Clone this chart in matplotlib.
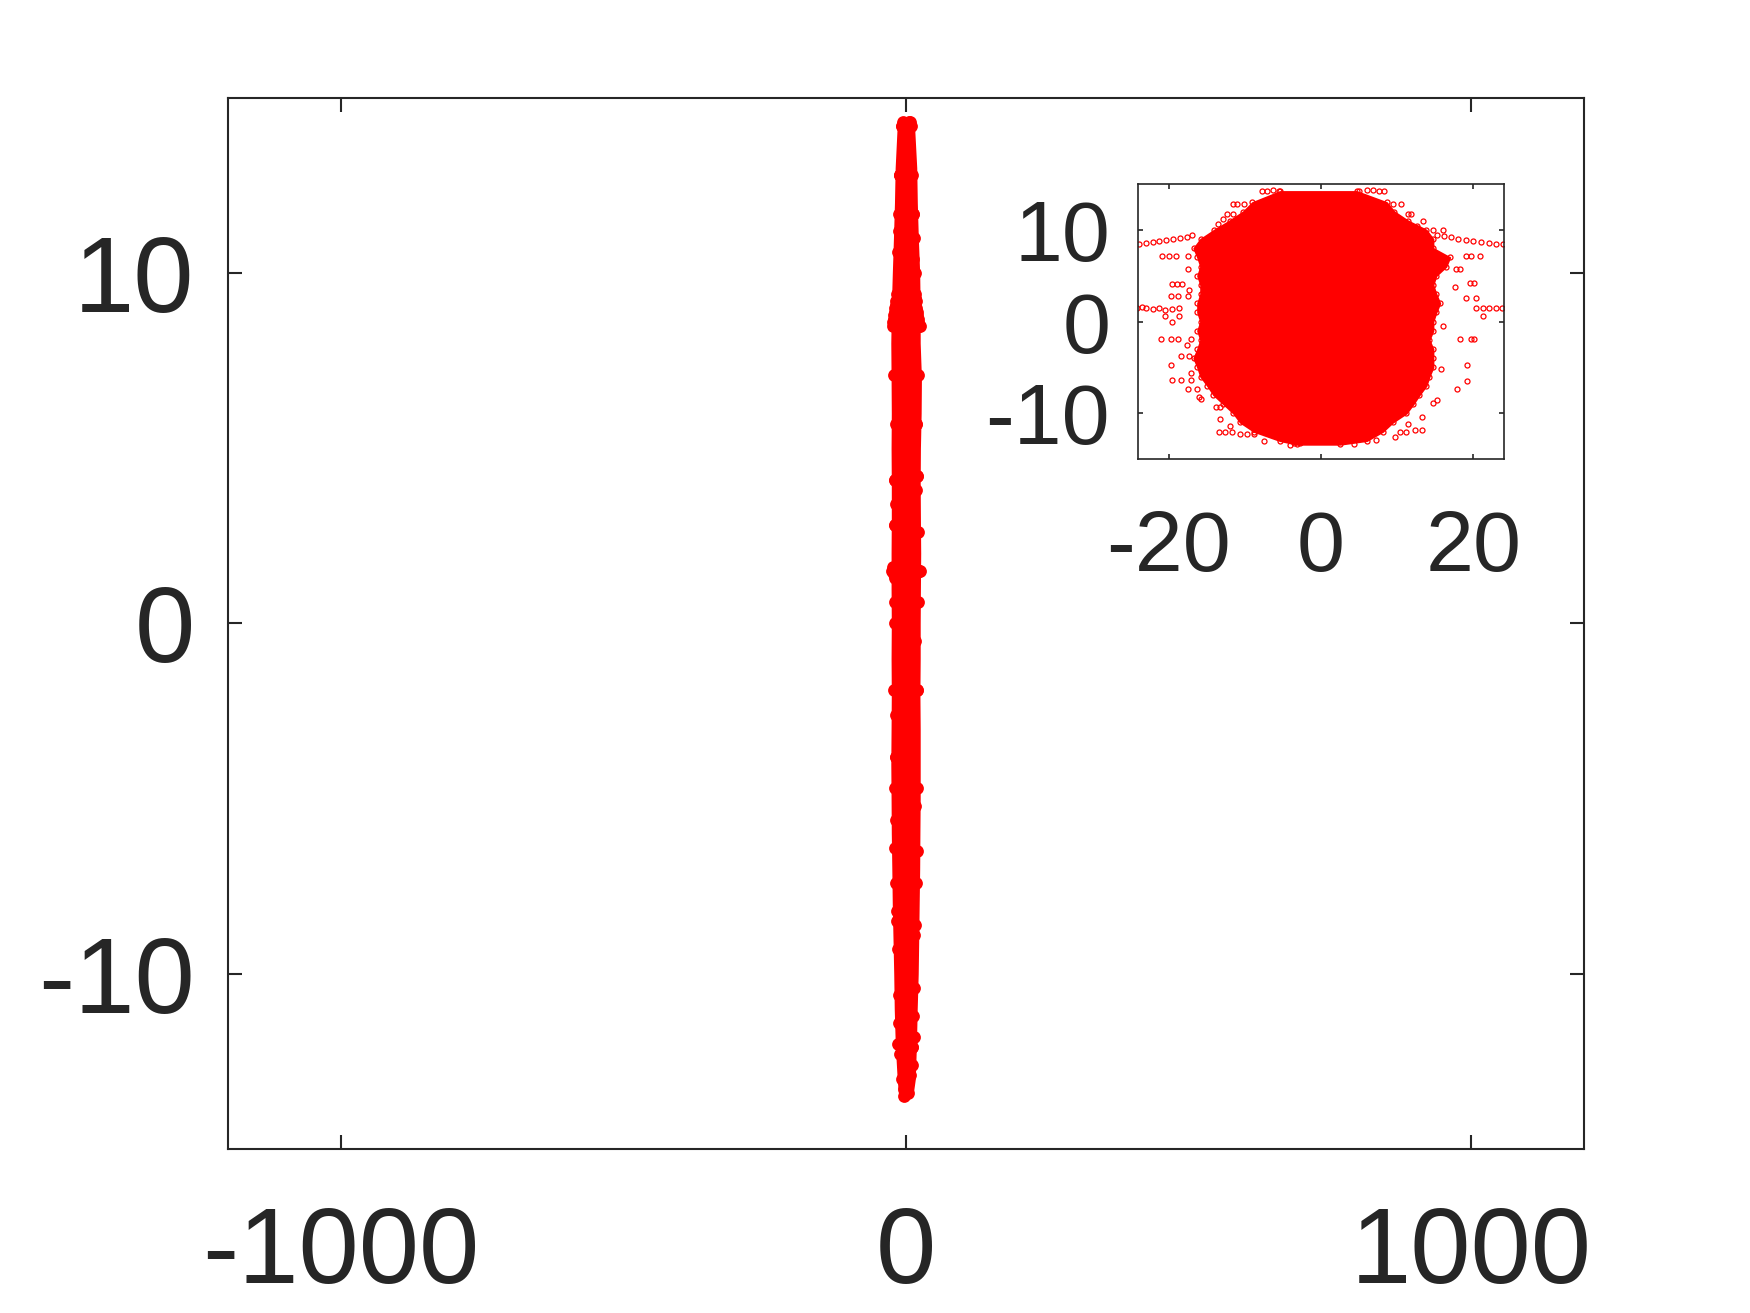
import matplotlib
matplotlib.use("Agg")
import matplotlib.pyplot as plt

plt.rcParams['font.family'] = ['Liberation Sans', 'DejaVu Sans']

# dense core of the point cloud: y level, left edge, right edge
core_y = [14.2, 13.0, 12.0, 11.0, 10.0, 9.0, 8.0, 7.0, 6.0, 5.0, 4.0, 3.0, 2.0, 1.0, 0.0,
          -1.0, -2.0, -3.0, -4.0, -5.0, -6.0, -7.0, -8.0, -9.0, -10.0, -11.0, -12.0, -13.0, -13.4]
core_left = [-5.4, -9.0, -10.2, -12.0, -14.0, -15.8, -16.7, -16.2, -15.8, -16.2, -15.8, -15.8, -16.2, -16.2, -15.8,
             -16.2, -15.8, -16.2, -16.7, -16.2, -15.8, -14.9, -14.1, -12.8, -11.5, -10.6, -8.8, -5.4, -3.2]
core_right = [4.7, 8.6, 9.6, 11.4, 13.8, 14.7, 14.7, 16.9, 16.4, 15.1, 14.7, 15.1, 15.6, 15.1, 14.7,
              14.7, 14.2, 14.7, 14.7, 14.7, 14.2, 13.8, 12.9, 12.1, 11.2, 9.4, 8.1, 6.0, 2.5]

# scattered points outside the core
out_x = [-7.8, -7.1, -6.3, -5.5, 5.0, 6.0, 6.8, 7.6, 8.3,
         -11.6, -11.0, -10.1, 9.4, 10.5, -12.3, -11.5, 11.4, 11.8, -10.6,
         -23.9, -23.0, -22.1, -21.2, -20.3, -19.4, -18.5, -17.6, -16.9,
         15.2, 16.1, 17.0, 18.0, 19.0, 20.0, 21.0, 22.0, 23.0, 23.9,
         -20.8, -19.9, -19.0, -17.5, -17.5, -19.5, -18.9, -18.2, -19.7, -18.7, -17.5,
         -24.2, -23.5, -22.9, -22.0, -21.2, -20.4, -19.5, -18.6,
         -20.4, -18.6, -19.5, -21.0, -19.7, -18.7, -17.1, -18.4, -17.3, -19.7,
         -19.5, -18.4, -17.1, -17.5, -16.2, -15.8, -13.8, -13.2, -13.2,
         -13.4, -12.6, -11.7, -10.6, -9.7, -8.8, -3.6, -2.7,
         14.7, 16.0, 20.8, 19.0, 19.7, 17.7, 18.2, 19.5, 20.1, 19.0, 20.3,
         22.1, 23.0, 23.8, 20.3, 21.2, 21.2, 18.2, 19.7, 20.1, 19.2, 19.2, 17.9,
         14.7, 13.2, 12.3, 13.2, 10.3, 11.2, 9.7,
         -13.5, -12.8, 12.6, 13.4, -17.3, 17.6, -17.6, 16.0, -17.0, 15.8, -16.0, 15.2,
         -12.0, 11.4, -7.5, 7.2, -4.0, 4.3]
out_y = [14.2, 14.2, 14.3, 14.2, 14.2, 14.3, 14.3, 14.2, 14.2,
         12.8, 12.8, 12.8, 12.8, 12.8, 11.7, 11.7, 11.7, 11.7, 11.1,
         8.5, 8.6, 8.7, 8.8, 8.9, 9.0, 9.1, 9.2, 9.4,
         9.4, 9.3, 9.2, 9.0, 8.9, 8.8, 8.7, 8.6, 8.5, 8.5,
         7.1, 7.1, 7.1, 7.1, 5.7, 4.1, 4.1, 4.1, 2.8, 2.8, 2.8,
         1.5, 1.6, 1.5, 1.4, 1.5, 1.3, 1.4, 1.5,
         0.6, 0.6, 0.0, -1.9, -1.9, -1.9, -1.9, -3.8, -3.8, -4.7,
         -6.4, -6.4, -6.4, -7.4, -7.4, -8.5, -9.3, -9.3, -10.6,
         -12.0, -12.0, -12.0, -12.3, -12.3, -12.3, -13.3, -13.3,
         10.0, 10.0, 7.1, 7.1, 7.1, 5.7, 5.7, 4.2, 4.2, 2.6, 2.6,
         1.5, 1.5, 1.5, 1.5, 1.5, 0.6, -1.9, -1.9, -1.9, -4.7, -6.5, -7.4,
         -8.9, -10.4, -11.8, -11.8, -12.1, -12.1, -12.6,
         10.6, 11.2, 10.4, 11.0, 3.4, 3.8, -2.6, -0.5, -5.6, -5.2, -8.2, -8.6,
         -11.4, -11.2, -13.0, -12.9, -13.5, -13.4]

main_xticks = [-1000, 0, 1000]
main_yticks = [-10, 0, 10]
inset_xticks = [-20, 0, 20]
inset_yticks = [-10, 0, 10]

red = '#ff0000'
dark = '#262626'

fig = plt.figure(figsize=(8.75, 6.565), dpi=200)

ax = fig.add_axes([0.1303, 0.1249, 0.7749, 0.8005])
ax.fill_betweenx(core_y, core_left, core_right, facecolor=red, edgecolor=red,
                 linewidth=4.2, joinstyle='round', capstyle='round')
ax.plot(out_x, out_y, 'o', color=red, markersize=4.6, markeredgewidth=0)
ax.set_xlim(-1200, 1200)
ax.set_ylim(-15, 15)
ax.set_xticks(main_xticks)
ax.set_yticks(main_yticks)
ax.set_xticklabels([str(v) for v in main_xticks])
ax.set_yticklabels([str(v) for v in main_yticks])
ax.tick_params(direction='in', length=5, width=0.75, color=dark, labelcolor=dark,
               labelsize=39, top=True, right=True)
ax.tick_params(axis='x', pad=20)
ax.tick_params(axis='y', pad=12)
for s in ax.spines.values():
    s.set_color(dark)
    s.set_linewidth(0.75)

ins = fig.add_axes([0.6503, 0.6504, 0.2091, 0.2094])
ins.fill_betweenx(core_y, core_left, core_right, facecolor=red, edgecolor=red, linewidth=0.6)
ins.plot(core_left + core_right, core_y + core_y, 'o', color=red, markerfacecolor='none',
         markersize=1.8, markeredgewidth=0.45)
ins.plot(out_x, out_y, 'o', color=red, markerfacecolor='none', markersize=1.8, markeredgewidth=0.45)
ins.set_xlim(-24, 24)
ins.set_ylim(-15, 15)
ins.set_xticks(inset_xticks)
ins.set_yticks(inset_yticks)
ins.set_xticklabels([str(v) for v in inset_xticks])
ins.set_yticklabels([str(v) for v in inset_yticks])
ins.tick_params(direction='in', length=1.8, width=0.6, color=dark, labelcolor=dark,
                labelsize=31, top=True, right=True)
ins.tick_params(axis='x', pad=18)
ins.tick_params(axis='y', pad=10)
for s in ins.spines.values():
    s.set_color(dark)
    s.set_linewidth(0.6)

fig.savefig("out.png", dpi=200, facecolor='white')
